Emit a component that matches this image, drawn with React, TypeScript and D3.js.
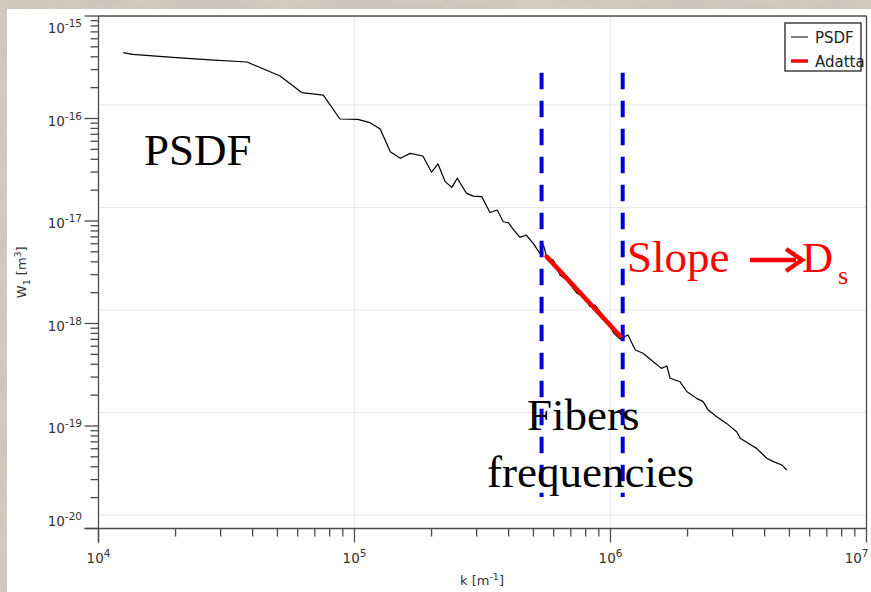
import React from "react";
import * as d3 from "d3";

// PSDF curve (k in m^-1, W1 in m^3)
const psdfK = [
  1.25e4, 1.36e4, 1.95e4, 2.73e4, 3.8e4, 5.12e4, 6.22e4, 7.55e4, 8.77e4, 1.03e5,
  1.15e5, 1.26e5, 1.38e5, 1.51e5, 1.65e5, 1.85e5, 2.0e5, 2.12e5, 2.26e5, 2.4e5,
  2.52e5, 2.74e5, 2.91e5, 3.14e5, 3.38e5, 3.61e5, 3.81e5, 3.99e5, 4.17e5, 4.43e5,
  4.68e5, 4.99e5, 5.3e5, 5.47e5, 5.63e5, 5.98e5, 6.35e5, 6.74e5, 7.38e5, 7.95e5,
  8.32e5, 8.7e5, 9.24e5, 9.78e5, 1.03e6, 1.09e6, 1.17e6, 1.25e6, 1.34e6, 1.47e6,
  1.58e6, 1.66e6, 1.71e6, 1.87e6, 1.99e6, 2.17e6, 2.3e6, 2.41e6, 2.6e6, 2.84e6,
  3.11e6, 3.21e6, 3.45e6, 3.72e6, 4.08e6, 4.33e6, 4.67e6, 4.88e6,
];
const psdfW = [
  4.39e-16, 4.23e-16, 3.95e-16, 3.73e-16, 3.56e-16, 2.6e-16, 1.79e-16, 1.69e-16, 9.89e-17, 9.82e-17,
  9.1e-17, 7.91e-17, 4.74e-17, 4.09e-17, 4.57e-17, 4.31e-17, 2.99e-17, 3.6e-17, 2.42e-17, 2.13e-17,
  2.61e-17, 1.86e-17, 1.75e-17, 1.73e-17, 1.21e-17, 1.28e-17, 9.84e-18, 9.62e-18, 8.3e-18, 6.93e-18,
  7.3e-18, 6.05e-18, 4.84e-18, 5.83e-18, 4.46e-18, 4.17e-18, 2.97e-18, 2.65e-18, 1.99e-18, 1.77e-18,
  1.46e-18, 1.51e-18, 1.24e-18, 1.03e-18, 8.02e-19, 7.06e-19, 7.73e-19, 5.51e-19, 5.12e-19, 4.24e-19,
  3.65e-19, 3.85e-19, 2.92e-19, 2.7e-19, 2.16e-19, 1.86e-19, 1.73e-19, 1.43e-19, 1.23e-19, 1.06e-19,
  8.79e-20, 7.59e-20, 6.78e-20, 6.05e-20, 4.84e-20, 4.49e-20, 4.17e-20, 3.72e-20,
];

// Fitted line ("Adatta")
const fitK = [5.63e5, 1.09e6];
const fitW = [4.49e-18, 7.55e-19];

// Fiber-frequency band markers
const bandK = [5.38e5, 1.116e6];
const bandW = [2.8e-16, 2.03e-20];

const xTickExps = [4, 5, 6, 7];
const yTickExps = [-15, -16, -17, -18, -19, -20];
const legendLabels = ["PSDF", "Adatta"];

const W = 871;
const H = 592;
const left = 98.5, right = 866.5, top = 16, bottom = 528.5;

export default function App() {
  const x = d3.scaleLog().domain([1e4, 1e7]).range([left, right]);
  const y = d3.scaleLog().domain([1e-20, 1e-15]).range([bottom, top]);

  const pts: [number, number][] = psdfK.map((k, i) => [k, psdfW[i]]);
  const line = d3
    .line<[number, number]>()
    .x((d) => x(d[0]))
    .y((d) => y(d[1]));

  const xMinor: number[] = [];
  for (let e = 4; e < 7; e++) for (let m = 2; m <= 9; m++) xMinor.push(m * Math.pow(10, e));
  const yMinor: number[] = [];
  for (let e = -20; e < -15; e++) for (let m = 2; m <= 9; m++) yMinor.push(m * Math.pow(10, e));

  const axisCol = "#4a4a4a";
  const labelCol = "#333";
  const sans = "'DejaVu Sans', sans-serif";
  const serif = "'Liberation Serif', 'Times New Roman', serif";

  return (
    <svg
      width={W}
      height={H}
      style={{ position: "absolute", left: 0, top: 0 }}
      xmlns="http://www.w3.org/2000/svg"
    >
      <defs>
        <filter id="marble" x="0" y="0" width="100%" height="100%">
          <feTurbulence type="fractalNoise" baseFrequency="0.012 0.03" numOctaves={4} seed={3} />
          <feColorMatrix
            type="matrix"
            values="0 0 0 0 0.5  0 0 0 0 0.46  0 0 0 0 0.42  0 0 0 0.9 -0.2"
          />
        </filter>
      </defs>
      <rect x={0} y={0} width={W} height={H} fill="#d6cdc2" />
      <rect x={0} y={0} width={W} height={H} filter="url(#marble)" opacity={0.7} />
      <rect x={7} y={9} width={W - 7} height={H - 9} fill="#fff" />

      {/* grid */}
      {yTickExps.slice(1).map((e) => (
        <line
          key={"gy" + e}
          x1={left}
          x2={right}
          y1={y(Math.pow(10, e)) - 13.5}
          y2={y(Math.pow(10, e)) - 13.5}
          stroke="#e6e6e6"
          strokeWidth={1.2}
        />
      ))}
      {[5, 6].map((e) => (
        <line
          key={"gx" + e}
          x1={x(Math.pow(10, e))}
          x2={x(Math.pow(10, e))}
          y1={top}
          y2={bottom}
          stroke="#e6e6e6"
          strokeWidth={1.2}
        />
      ))}

      {/* frame */}
      <line x1={left} x2={right} y1={top} y2={top} stroke={axisCol} strokeWidth={1.3} />
      <line x1={right} x2={right} y1={top} y2={bottom} stroke={axisCol} strokeWidth={1.3} />
      <line x1={left} x2={left} y1={top} y2={bottom + 14} stroke={axisCol} strokeWidth={1.3} />
      <line x1={left - 14} x2={right} y1={bottom} y2={bottom} stroke={axisCol} strokeWidth={1.3} />

      {/* y ticks */}
      {yTickExps.map((e) => (
        <line
          key={"yt" + e}
          x1={left - 14}
          x2={left}
          y1={y(Math.pow(10, e))}
          y2={y(Math.pow(10, e))}
          stroke={axisCol}
          strokeWidth={1.3}
        />
      ))}
      {yMinor.map((v, i) => (
        <line key={"ym" + i} x1={left - 8} x2={left} y1={y(v)} y2={y(v)} stroke={axisCol} strokeWidth={1.3} />
      ))}
      {yTickExps.map((e, i) => {
        const yy = y(Math.pow(10, e));
        const base = i === 0 ? yy + 17 : i === yTickExps.length - 1 ? yy - 2.5 : yy + 7;
        return (
          <text key={"yl" + e} x={82} y={base} textAnchor="end" fontFamily={sans} fontSize={13.5} fill={labelCol}>
            10
            <tspan fontSize={10.5} dy={-6}>
              {e}
            </tspan>
          </text>
        );
      })}

      {/* x ticks */}
      {xTickExps.map((e) => (
        <line
          key={"xt" + e}
          x1={x(Math.pow(10, e))}
          x2={x(Math.pow(10, e))}
          y1={bottom}
          y2={bottom + 14}
          stroke={axisCol}
          strokeWidth={1.3}
        />
      ))}
      {xMinor.map((v, i) => (
        <line key={"xm" + i} x1={x(v)} x2={x(v)} y1={bottom} y2={bottom + 8} stroke={axisCol} strokeWidth={1.3} />
      ))}
      {xTickExps.map((e, i) => {
        const xx = x(Math.pow(10, e));
        const last = i === xTickExps.length - 1;
        return (
          <text
            key={"xl" + e}
            x={last ? xx + 2 : xx}
            y={563}
            textAnchor={last ? "end" : "middle"}
            fontFamily={sans}
            fontSize={13.5}
            fill={labelCol}
          >
            10
            <tspan fontSize={10.5} dy={-6}>
              {e}
            </tspan>
          </text>
        );
      })}

      {/* axis titles */}
      <text x={482} y={585} textAnchor="middle" fontFamily={sans} fontSize={13} fill={labelCol}>
        k [m
        <tspan fontSize={9.5} dy={-5}>
          -1
        </tspan>
        <tspan dy={5}>]</tspan>
      </text>
      <text
        transform={`translate(26, ${(top + bottom) / 2}) rotate(-90)`}
        textAnchor="middle"
        fontFamily={sans}
        fontSize={13}
        fill={labelCol}
      >
        W
        <tspan fontSize={9.5} dy={4}>
          1
        </tspan>
        <tspan dy={-4}> [m</tspan>
        <tspan fontSize={9.5} dy={-5}>
          3
        </tspan>
        <tspan dy={5}>]</tspan>
      </text>

      {/* data */}
      <path d={line(pts) || ""} fill="none" stroke="#000" strokeWidth={1.2} strokeLinejoin="round" />

      {/* band markers */}
      {bandK.map((k, i) => (
        <line
          key={"b" + i}
          x1={x(k)}
          x2={x(k)}
          y1={y(bandW[0])}
          y2={y(bandW[1])}
          stroke="#0000cc"
          strokeWidth={4}
          strokeDasharray="16.7 11.3"
        />
      ))}

      {/* fit */}
      <line
        x1={x(fitK[0])}
        y1={y(fitW[0])}
        x2={x(fitK[1])}
        y2={y(fitW[1])}
        stroke="#ff0000"
        strokeWidth={4.5}
        strokeLinecap="round"
      />

      {/* legend */}
      <rect x={785} y={23} width={76} height={48} fill="#fff" stroke="#222" strokeWidth={1.3} />
      <line x1={791} x2={808} y1={37} y2={37} stroke="#000" strokeWidth={1} />
      <line x1={791} x2={808} y1={61} y2={61} stroke="#ff0000" strokeWidth={3.5} />
      <text x={815} y={42.5} fontFamily={sans} fontSize={15} fill="#222">
        {legendLabels[0]}
      </text>
      <text x={815} y={66.5} fontFamily={sans} fontSize={15} fill="#222">
        {legendLabels[1]}
      </text>

      {/* annotations */}
      <text x={144} y={165} fontFamily={serif} fontSize={45} fill="#000">
        PSDF
      </text>
      <text x={527} y={430} fontFamily={serif} fontSize={45} fill="#000">
        Fibers
      </text>
      <text x={487} y={487} fontFamily={serif} fontSize={45} fill="#000">
        frequencies
      </text>
      <text x={627} y={272} fontFamily={serif} fontSize={45} fill="#ff0000">
        Slope
      </text>
      <line x1={750} x2={796} y1={260} y2={260} stroke="#ff0000" strokeWidth={4.5} />
      <path d="M786,249 L802,260 L786,271" fill="none" stroke="#ff0000" strokeWidth={4.5} strokeLinejoin="miter" />
      <text x={802} y={272} fontFamily={serif} fontSize={43} fill="#ff0000">
        D
      </text>
      <text x={838} y={284} fontFamily={serif} fontSize={26} fill="#ff0000">
        s
      </text>
    </svg>
  );
}
